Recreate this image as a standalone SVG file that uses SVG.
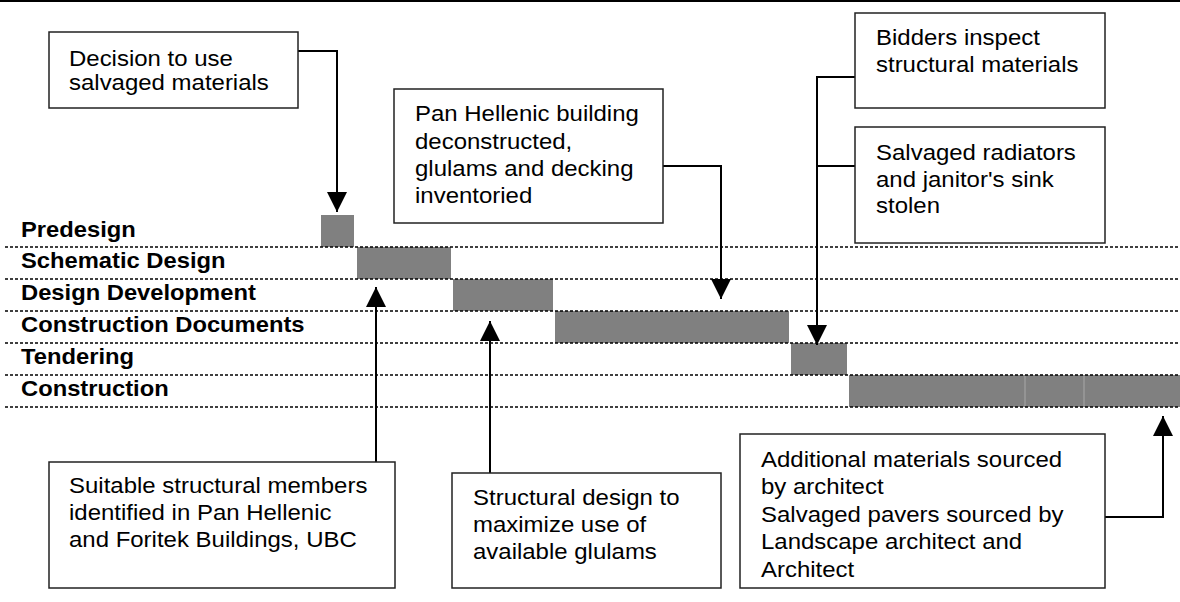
<svg xmlns="http://www.w3.org/2000/svg" width="1180" height="602" viewBox="0 0 1180 602">
<defs>
<style>
.box{fill:#fff;stroke:#222;stroke-width:1.5}
.t{font-family:"Liberation Sans",Arial,sans-serif;font-size:22px;fill:#000}
.lb{font-family:"Liberation Sans",Arial,sans-serif;font-size:22px;font-weight:bold;fill:#000}
.bar{fill:#808080}
.dash{stroke:#000;stroke-width:1.5;stroke-dasharray:3 2;fill:none}
.con{stroke:#000;stroke-width:2;fill:none}
</style>
<marker id="arr" markerUnits="userSpaceOnUse" markerWidth="20" markerHeight="20" viewBox="0 0 20 20" refX="20" refY="10" orient="auto">
<path d="M0,0 L20,10 L0,20 z" fill="#000"/>
</marker>
</defs>
<rect width="1180" height="602" fill="#fff"/>
<line x1="0" y1="1" x2="1180" y2="1" stroke="#000" stroke-width="2"/>

<g id="bars">
<rect class="bar" x="321" y="215" width="33" height="32"/>
<rect class="bar" x="357" y="247" width="94" height="32"/>
<rect class="bar" x="453" y="279" width="100" height="32"/>
<rect class="bar" x="555" y="311" width="234" height="32"/>
<rect class="bar" x="791" y="343" width="56" height="32"/>
<rect class="bar" x="849" y="375" width="331" height="32"/>
<line x1="1025" y1="376" x2="1025" y2="406" stroke="#a8a8a8" stroke-width="1"/>
<line x1="1084" y1="376" x2="1084" y2="406" stroke="#a8a8a8" stroke-width="1"/>
</g>

<g id="grid">
<line class="dash" x1="5" y1="247" x2="1180" y2="247"/>
<line class="dash" x1="5" y1="279" x2="1180" y2="279"/>
<line class="dash" x1="5" y1="311" x2="1180" y2="311"/>
<line class="dash" x1="5" y1="343" x2="1180" y2="343"/>
<line class="dash" x1="5" y1="375" x2="1180" y2="375"/>
<line class="dash" x1="5" y1="407" x2="1180" y2="407"/>
</g>

<g id="labels" transform="translate(21,0) scale(1.08,1)">
<text class="lb" x="0" y="237">Predesign</text>
<text class="lb" x="0" y="268">Schematic Design</text>
<text class="lb" x="0" y="300">Design Development</text>
<text class="lb" x="0" y="332">Construction Documents</text>
<text class="lb" x="0" y="364">Tendering</text>
<text class="lb" x="0" y="396">Construction</text>
</g>

<g id="connectors">
<path class="con" d="M298,51 H337 V212" marker-end="url(#arr)"/>
<path class="con" d="M663,166 H721 V299" marker-end="url(#arr)"/>
<path class="con" d="M855,77 H817 V345" marker-end="url(#arr)"/>
<path class="con" d="M855,166 H817"/>
<path class="con" d="M376,462 V287" marker-end="url(#arr)"/>
<path class="con" d="M490,473 V321" marker-end="url(#arr)"/>
<path class="con" d="M1105,517 H1163 V416" marker-end="url(#arr)"/>
</g>

<g id="n-decision">
<rect class="box" x="49" y="32" width="249" height="76"/>
<g transform="translate(69,0) scale(1.09,1)">
<text class="t" x="0" y="66">Decision to use</text>
<text class="t" x="0" y="90">salvaged materials</text>
</g>
</g>

<g id="n-panhellenic">
<rect class="box" x="394" y="89" width="269" height="134"/>
<g transform="translate(415,0) scale(1.09,1)">
<text class="t" x="0" y="121">Pan Hellenic building</text>
<text class="t" x="0" y="149">deconstructed,</text>
<text class="t" x="0" y="176">glulams and decking</text>
<text class="t" x="0" y="203">inventoried</text>
</g>
</g>

<g id="n-bidders">
<rect class="box" x="855" y="13" width="250" height="95"/>
<g transform="translate(876,0) scale(1.09,1)">
<text class="t" x="0" y="45">Bidders inspect</text>
<text class="t" x="0" y="72">structural materials</text>
</g>
</g>

<g id="n-stolen">
<rect class="box" x="855" y="127" width="250" height="116"/>
<g transform="translate(876,0) scale(1.09,1)">
<text class="t" x="0" y="160">Salvaged radiators</text>
<text class="t" x="0" y="187">and janitor's sink</text>
<text class="t" x="0" y="213">stolen</text>
</g>
</g>

<g id="n-suitable">
<rect class="box" x="49" y="462" width="346" height="126"/>
<g transform="translate(69,0) scale(1.09,1)">
<text class="t" x="0" y="493">Suitable structural members</text>
<text class="t" x="0" y="520">identified in Pan Hellenic</text>
<text class="t" x="0" y="547">and Foritek Buildings, UBC</text>
</g>
</g>

<g id="n-structural">
<rect class="box" x="452" y="473" width="269" height="115"/>
<g transform="translate(473,0) scale(1.09,1)">
<text class="t" x="0" y="505">Structural design to</text>
<text class="t" x="0" y="532">maximize use of</text>
<text class="t" x="0" y="559">available glulams</text>
</g>
</g>

<g id="n-additional">
<rect class="box" x="740" y="434" width="365" height="154"/>
<g transform="translate(761,0) scale(1.09,1)">
<text class="t" x="0" y="467">Additional materials sourced</text>
<text class="t" x="0" y="494">by architect</text>
<text class="t" x="0" y="522">Salvaged pavers sourced by</text>
<text class="t" x="0" y="549">Landscape architect and</text>
<text class="t" x="0" y="577">Architect</text>
</g>
</g>
</svg>
